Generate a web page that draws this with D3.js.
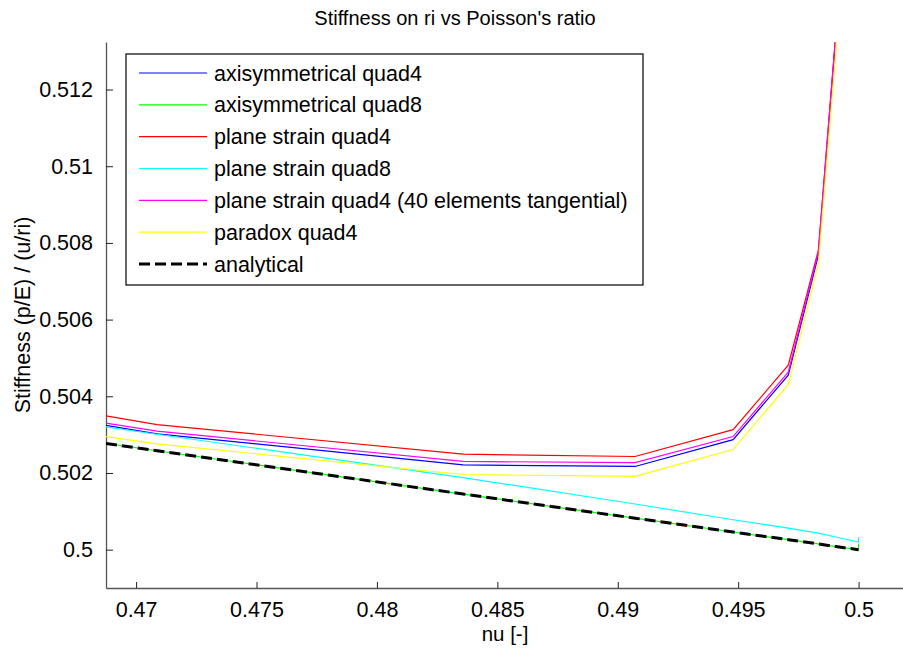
<!DOCTYPE html>
<html lang="en">
<head>
    <meta charset="UTF-8">
    <title>Stiffness on ri vs Poisson's ratio</title>
    <script src="https://d3js.org/d3.v7.min.js"></script>
    <style>
        body {
            margin: 0;
            background-color: white;
            font-family: 'Liberation Sans', Arial, sans-serif;
        }
    </style>
</head>
<body>
    <div id="chart"></div>

    <script>
        // data
        const nu = [0.46875, 0.47087, 0.48358, 0.49072, 0.49479, 0.49708, 0.49833, 0.49906, 0.49999, 0.5];

        const axiQuad4    = [0.50324, 0.50302, 0.50221, 0.50217, 0.50287, 0.50455, 0.50768, 0.5134, 0.56, 0.62];
        const axiQuad8    = [0.50277, 0.50258, 0.50145, 0.50082, 0.50046, 0.50026, 0.50015, 0.50008, 0.50000, 0.50016];
        const psQuad4     = [0.50349, 0.50326, 0.50249, 0.50243, 0.50313, 0.50481, 0.50781, 0.5135, 0.57, 0.64];
        const psQuad8     = [0.50320, 0.50301, 0.50188, 0.50119, 0.50078, 0.50056, 0.50043, 0.50033, 0.50020, 0.50033];
        const psQuad4_40  = [0.50330, 0.50309, 0.50230, 0.50227, 0.50295, 0.50463, 0.50776, 0.5135, 0.57, 0.63];
        const paradoxQuad4 = [0.50295, 0.50276, 0.50196, 0.50191, 0.50261, 0.50431, 0.50746, 0.5130, 0.55, 0.60];
        const analytical  = [0.50277, 0.50258, 0.50145, 0.50082, 0.50046, 0.50026, 0.50015, 0.50008, 0.50000, 0.50000];

        const seriesNames = [
            "axisymmetrical quad4",
            "axisymmetrical quad8",
            "plane strain quad4",
            "plane strain quad8",
            "plane strain quad4 (40 elements tangential)",
            "paradox quad4",
            "analytical"
        ];
        const seriesValues = [axiQuad4, axiQuad8, psQuad4, psQuad8, psQuad4_40, paradoxQuad4, analytical];
        const seriesColors = ["#0000ff", "#00ff00", "#ff0000", "#00ffff", "#ff00ff", "#ffff00", "#000000"];

        const xTicks = [0.47, 0.475, 0.48, 0.485, 0.49, 0.495, 0.5];
        const yTicks = [0.5, 0.502, 0.504, 0.506, 0.508, 0.51, 0.512];

        const W = 903, H = 649;
        const plot = {left: 106, top: 42, right: 907, bottom: 588};

        const svg = d3.select("#chart")
            .append("svg")
                .attr("width", W)
                .attr("height", H);

        const x = d3.scaleLinear()
            .domain([0.46875, 0.50201])
            .range([plot.left, plot.right]);
        const y = d3.scaleLinear()
            .domain([0.499, 0.51324])
            .range([plot.bottom, plot.top]);

        svg.append("clipPath")
            .attr("id", "clip")
            .append("rect")
                .attr("x", plot.left)
                .attr("y", plot.top)
                .attr("width", plot.right - plot.left)
                .attr("height", plot.bottom - plot.top);

        // axes (MATLAB style: ticks inward)
        const xAxis = svg.append("g")
            .attr("transform", `translate(0,${plot.bottom})`)
            .call(d3.axisBottom(x).tickValues(xTicks).tickSizeInner(-6).tickSizeOuter(0)
                .tickPadding(14).tickFormat(d3.format("")));
        const yAxis = svg.append("g")
            .attr("transform", `translate(${plot.left},0)`)
            .call(d3.axisLeft(y).tickValues(yTicks).tickSizeInner(-7).tickSizeOuter(0)
                .tickPadding(13).tickFormat(d3.format("")));

        [xAxis, yAxis].forEach(g => {
            g.select(".domain").attr("stroke", "#555").attr("stroke-width", 1.3);
            g.selectAll(".tick line").attr("stroke", "#222");
            g.selectAll(".tick text")
                .attr("fill", "#000")
                .style("font-family", "'Liberation Sans', Arial, sans-serif")
                .style("font-size", "21.5px");
        });

        // lines
        const lines = svg.append("g").attr("clip-path", "url(#clip)");
        seriesValues.forEach((vals, i) => {
            const line = d3.line()
                .x((d, j) => x(nu[j]))
                .y(d => y(d));
            const p = lines.append("path")
                .datum(vals)
                .attr("fill", "none")
                .attr("stroke", seriesColors[i])
                .attr("stroke-width", i === 6 ? 3 : 1.2)
                .attr("d", line);
            if (i === 6) p.attr("stroke-dasharray", "11,5");
        });

        // title and labels
        svg.append("text")
            .attr("x", 455)
            .attr("y", 25)
            .attr("text-anchor", "middle")
            .style("font-size", "20px")
            .text("Stiffness on ri vs Poisson's ratio");

        svg.append("text")
            .attr("x", 505)
            .attr("y", 641)
            .attr("text-anchor", "middle")
            .style("font-size", "20.5px")
            .text("nu [-]");

        svg.append("text")
            .attr("transform", "translate(30,315) rotate(-90)")
            .attr("text-anchor", "middle")
            .style("font-size", "21.5px")
            .text("Stiffness (p/E) / (u/ri)");

        // legend
        const legend = svg.append("g");
        legend.append("rect")
            .attr("x", 126)
            .attr("y", 54)
            .attr("width", 517)
            .attr("height", 231)
            .attr("fill", "white")
            .attr("stroke", "#000")
            .attr("stroke-width", 1.2);

        const legY = d3.scalePoint()
            .domain(seriesNames)
            .range([73, 264]);

        seriesNames.forEach((name, i) => {
            const l = legend.append("line")
                .attr("x1", 139)
                .attr("x2", 207)
                .attr("y1", legY(name))
                .attr("y2", legY(name))
                .attr("stroke", seriesColors[i])
                .attr("stroke-width", i === 6 ? 3 : 1.2);
            if (i === 6) l.attr("stroke-dasharray", "11,5");
            legend.append("text")
                .attr("x", 214)
                .attr("y", legY(name))
                .attr("dy", "0.35em")
                .style("font-size", "21.5px")
                .text(name);
        });
    </script>
</body>
</html>
